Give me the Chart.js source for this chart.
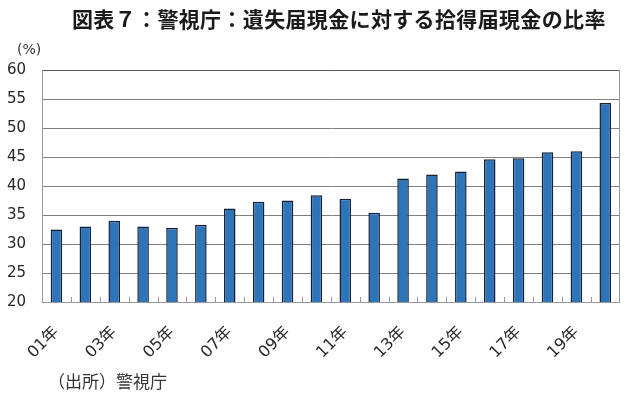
<!DOCTYPE html>
<html>
<head>
<meta charset="utf-8">
<script src="https://cdn.jsdelivr.net/npm/chart.js@4/dist/chart.umd.min.js"></script>
<style>
  html, body { margin: 0; padding: 0; background: #fff; }
  #wrap { position: relative; width: 640px; height: 399px; overflow: hidden; }
  #c { position: absolute; left: 0; top: 0; }
  .txt { position: absolute; white-space: nowrap; font-family: "Noto Sans CJK JP", sans-serif; line-height: 1; }
  #title { left: 72px; top: 8px; font-size: 21px; letter-spacing: 0.35px; font-weight: bold; color: #1a1a1a; }
  #unit { left: 17px; top: 42px; font-size: 14px; color: #333; font-family: "DejaVu Sans", "Noto Sans CJK JP", sans-serif; }
  #source { left: 48px; top: 372px; font-size: 17px; color: #333; }
</style>
</head>
<body>
<div id="wrap">
  <canvas id="c" width="640" height="399"></canvas>
  <div class="txt" id="title">図表７：警視庁：遺失届現金に対する拾得届現金の比率</div>
  <div class="txt" id="unit">(%)</div>
  <div class="txt" id="source">（出所）警視庁</div>
</div>
<script>
const categories = ['01年','02年','03年','04年','05年','06年','07年','08年','09年','10年',
                    '11年','12年','13年','14年','15年','16年','17年','18年','19年','20年'];
const ratioValues = [32.5, 33.0, 34.0, 33.0, 32.8, 33.3, 36.1, 37.3, 37.5, 38.4,
                     37.8, 35.4, 41.3, 42.0, 42.5, 44.6, 44.8, 45.8, 46.0, 54.3];
const yTicks = [20, 25, 30, 35, 40, 45, 50, 55, 60];

const frameAndTicks = {
  id: 'frameAndTicks',
  afterDraw(chart) {
    const ctx = chart.ctx;
    const a = chart.chartArea;
    const xs = chart.scales.x;
    ctx.save();
    ctx.strokeStyle = '#999999';
    ctx.lineWidth = 1;
    ctx.beginPath();
    ctx.moveTo(Math.round(a.right) - 0.5, a.top);
    ctx.lineTo(Math.round(a.right) - 0.5, a.bottom);
    ctx.stroke();
    const n = categories.length;
    for (let i = 1; i < n; i++) {
      const x = Math.round((xs.getPixelForValue(i - 1) + xs.getPixelForValue(i)) / 2) + 0.5;
      ctx.beginPath();
      ctx.moveTo(x, a.bottom);
      ctx.lineTo(x, a.bottom - 5);
      ctx.stroke();
    }
    ctx.restore();
  }
};

new Chart(document.getElementById('c'), {
  type: 'bar',
  data: {
    labels: categories,
    datasets: [{
      data: ratioValues,
      backgroundColor: '#2E74B8',
      borderColor: '#14203a',
      borderWidth: 1.5,
      borderSkipped: 'bottom',
      barPercentage: 0.4,
      categoryPercentage: 1.0
    }]
  },
  options: {
    responsive: false,
    devicePixelRatio: 1,
    animation: false,
    layout: { padding: { left: 0, right: 7, top: 70, bottom: 0 } },
    plugins: { legend: { display: false }, title: { display: false }, tooltip: { enabled: false } },
    scales: {
      x: {
        afterFit(s) { s.height = 97; },
        grid: { display: false, drawTicks: false },
        border: { display: true, color: '#999999' },
        ticks: {
          autoSkip: false,
          minRotation: 45,
          maxRotation: 45,
          padding: 21,
          color: '#262626',
          font: { family: '"DejaVu Sans", "Noto Sans CJK JP", sans-serif', size: 16 },
          callback(v, i) { return i % 2 === 0 ? categories[i] : ''; }
        }
      },
      y: {
        min: 20,
        max: 60,
        afterFit(s) { s.width = 42; },
        afterBuildTicks(s) { s.ticks = yTicks.map(v => ({ value: v })); },
        grid: {
          drawTicks: false,
          color(ctx) { return ctx.tick && ctx.tick.value === 60 ? '#555555' : '#808080'; },
          lineWidth: 1
        },
        border: { display: true, color: '#999999' },
        ticks: {
          padding: 16,
          color: '#262626',
          font: { family: '"DejaVu Sans", sans-serif', size: 15 }
        }
      }
    }
  },
  plugins: [frameAndTicks]
});
</script>
</body>
</html>
